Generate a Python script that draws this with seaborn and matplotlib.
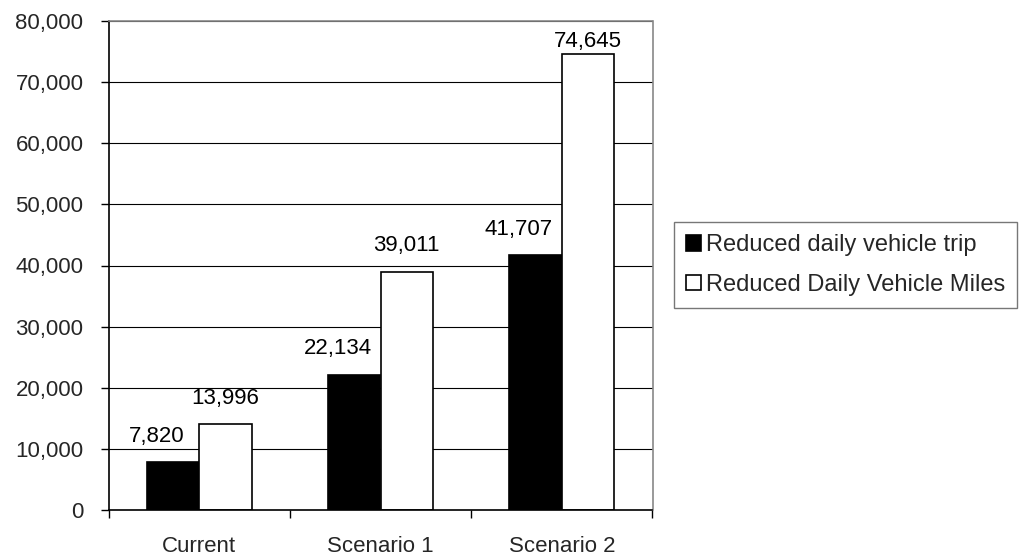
import matplotlib
matplotlib.use("Agg")
import matplotlib.pyplot as plt
import seaborn as sns
import pandas as pd
from matplotlib.ticker import FuncFormatter, FixedLocator

categories = ["Current", "Scenario 1", "Scenario 2"]
trips = [7820, 22134, 41707]
miles = [13996, 39011, 74645]
series_names = ["Reduced daily vehicle trip", "Reduced Daily Vehicle Miles"]

df = pd.DataFrame({
    "category": categories * 2,
    "value": trips + miles,
    "series": [series_names[0]] * 3 + [series_names[1]] * 3,
})

sns.set_theme(style="white")
plt.rcParams["font.family"] = ["Liberation Sans", "DejaVu Sans"]
plt.rcParams["font.size"] = 16

FS = 16
YMAX = 80000

fig = plt.figure(figsize=(10.3, 5.59), dpi=100)
ax = fig.add_axes([108.5 / 1030, 1 - 510 / 559, 544 / 1030, 489 / 559])

sns.barplot(
    data=df, x="category", y="value", hue="series",
    palette=["black", "white"], edgecolor="black", linewidth=1.2,
    width=0.58, ax=ax, legend=True,
)

# value labels; dark-series labels sit slightly left, and labels of bars
# reaching close to the top of the frame are tucked in closer to the bar
for i, c in enumerate(ax.containers):
    anns = ax.bar_label(c, labels=[f"{v:,.0f}" for v in c.datavalues],
                        padding=11, fontsize=FS, color="black")
    for a, v in zip(anns, c.datavalues):
        dx = -12 if i == 0 else 0
        dy = 1 if v > 0.9 * YMAX else a.xyann[1]
        a.xyann = (dx, dy)

ax.set_ylim(0, YMAX)
ax.set_xlim(-0.5, 2.5)
ax.set_yticks(range(0, YMAX + 1, 10000))
ax.yaxis.set_major_formatter(FuncFormatter(lambda v, p: f"{v:,.0f}"))
ax.yaxis.grid(True, color="black", linewidth=0.8)
ax.set_axisbelow(True)
ax.set_xlabel("")
ax.set_ylabel("")

ax.tick_params(axis="y", which="major", direction="out", length=6,
               width=1, color="black", labelsize=FS, pad=12, left=True)
ax.tick_params(axis="x", which="major", length=0, labelsize=FS, pad=18.5)
ax.xaxis.set_minor_locator(FixedLocator([-0.5, 0.5, 1.5, 2.5]))
ax.tick_params(axis="x", which="minor", direction="out", length=5.5,
               width=1, color="black", bottom=True)

for side in ["left", "bottom"]:
    ax.spines[side].set_color("black")
    ax.spines[side].set_linewidth(1.2)
for side in ["top", "right"]:
    ax.spines[side].set_color("#888888")
    ax.spines[side].set_linewidth(1.2)

handles, labels = ax.get_legend_handles_labels()
ax.get_legend().remove()
leg = fig.legend(handles, labels, loc="center left",
                 bbox_to_anchor=(674 / 1030, 1 - 265 / 559),
                 frameon=True, fancybox=False, fontsize=17,
                 handlelength=0.65, handleheight=0.65, handletextpad=0.2,
                 labelspacing=0.75, borderpad=0.5, borderaxespad=0)
leg.get_frame().set_edgecolor("#555555")
leg.get_frame().set_linewidth(1.0)

fig.savefig("out.png", dpi=100)
